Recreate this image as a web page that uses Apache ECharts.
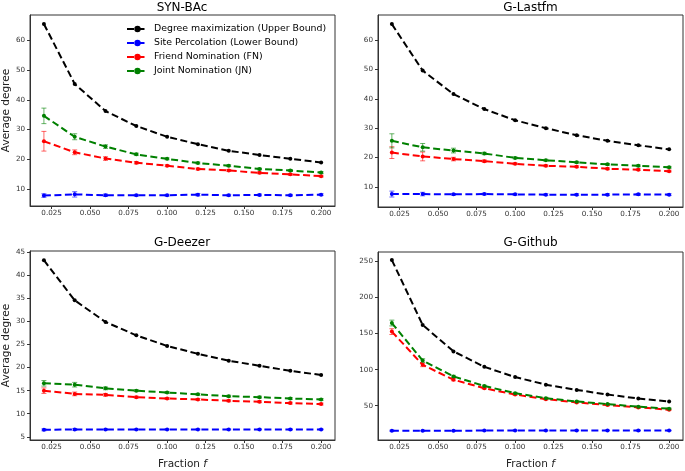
<!DOCTYPE html>
<html>
<head>
<meta charset="utf-8">
<script src="https://cdn.jsdelivr.net/npm/echarts@6/dist/echarts.min.js"></script>
<style>
  html, body { margin: 0; padding: 0; background: #fff; }
  #chart { width: 685px; height: 471px; }
</style>
</head>
<body>
<div id="chart"></div>
<script>
// x values shared by all panels
const fractions = [0.02, 0.04, 0.06, 0.08, 0.10, 0.12, 0.14, 0.16, 0.18, 0.20]
const xTicks = [0.025, 0.05, 0.075, 0.1, 0.125, 0.15, 0.175, 0.2]
const panelTitles = ['SYN-BAc', 'G-Lastfm', 'G-Deezer', 'G-Github']
const seriesNames = [
  'Degree maximization (Upper Bound)',
  'Site Percolation (Lower Bound)',
  'Friend Nomination (FN)',
  'Joint Nomination (JN)'
]

// SYN-BAc
const synUpper = [65.4, 45.3, 36.2, 31.2, 27.6, 25.1, 22.9, 21.5, 20.2, 19.0]
const synLower = [7.9, 8.3, 8.0, 8.0, 8.0, 8.2, 8.0, 8.1, 8.0, 8.2]
const synFN = [26.1, 22.4, 20.3, 18.9, 17.9, 16.8, 16.3, 15.5, 15.0, 14.4]
const synJN = [34.6, 27.6, 24.3, 21.7, 20.2, 18.8, 17.9, 16.8, 16.3, 15.6]
const synLowerErr = [0.6, 0.9, 0.4, 0.3, 0.3, 0.4, 0.3, 0.3, 0.3, 0.3]
const synFNErr = [3.3, 0.8, 0.6, 0.4, 0.3, 0.3, 0.3, 0.3, 0.3, 0.3]
const synJNErr = [2.6, 1.0, 0.6, 0.4, 0.3, 0.3, 0.3, 0.3, 0.3, 0.3]
const synYTicks = [10, 20, 30, 40, 50, 60]

// G-Lastfm
const lastfmUpper = [65.4, 49.6, 41.6, 36.5, 32.7, 30.0, 27.6, 25.7, 24.2, 22.8]
const lastfmLower = [7.6, 7.6, 7.5, 7.6, 7.5, 7.4, 7.4, 7.4, 7.5, 7.4]
const lastfmFN = [21.7, 20.4, 19.5, 18.8, 17.9, 17.2, 16.9, 16.2, 15.9, 15.4]
const lastfmJN = [25.7, 23.5, 22.4, 21.4, 19.9, 19.1, 18.4, 17.7, 17.2, 16.7]
const lastfmLowerErr = [1.0, 0.6, 0.3, 0.3, 0.3, 0.3, 0.3, 0.3, 0.3, 0.3]
const lastfmFNErr = [2.0, 1.5, 0.6, 0.4, 0.3, 0.3, 0.3, 0.3, 0.3, 0.3]
const lastfmJNErr = [2.4, 1.3, 0.8, 0.4, 0.3, 0.3, 0.3, 0.3, 0.3, 0.3]
const lastfmYTicks = [10, 20, 30, 40, 50, 60]

// G-Deezer
const deezerUpper = [43.3, 34.6, 29.9, 27.0, 24.7, 23.0, 21.5, 20.4, 19.3, 18.4]
const deezerLower = [6.5, 6.6, 6.6, 6.6, 6.6, 6.6, 6.6, 6.6, 6.6, 6.6]
const deezerFN = [15.0, 14.3, 14.1, 13.6, 13.3, 13.1, 12.8, 12.6, 12.3, 12.1]
const deezerJN = [16.6, 16.3, 15.5, 15.0, 14.6, 14.2, 13.8, 13.6, 13.3, 13.1]
const deezerLowerErr = [0.2, 0.2, 0.1, 0.1, 0.1, 0.1, 0.1, 0.1, 0.1, 0.1]
const deezerFNErr = [0.6, 0.4, 0.3, 0.2, 0.2, 0.2, 0.2, 0.2, 0.2, 0.2]
const deezerJNErr = [0.6, 0.5, 0.3, 0.2, 0.2, 0.2, 0.2, 0.2, 0.2, 0.2]
const deezerYTicks = [5, 10, 15, 20, 25, 30, 35, 40, 45]

// G-Github
const githubUpper = [251.8, 161.9, 125.3, 103.9, 89.7, 79.2, 71.9, 65.5, 60.0, 55.9]
const githubLower = [15.3, 15.3, 15.3, 15.6, 15.8, 15.6, 15.8, 15.8, 15.6, 15.6]
const githubFN = [152.7, 106.6, 86.1, 74.2, 65.5, 59.1, 54.6, 50.9, 47.7, 44.5]
const githubJN = [164.6, 112.6, 90.6, 77.4, 67.4, 60.5, 55.9, 52.3, 48.6, 45.9]
const githubLowerErr = [0.8, 0.6, 0.5, 0.5, 0.5, 0.5, 0.5, 0.5, 0.5, 0.5]
const githubFNErr = [4.0, 2.5, 1.5, 1.0, 1.0, 1.0, 0.8, 0.8, 0.8, 0.8]
const githubJNErr = [4.0, 2.5, 1.5, 1.0, 1.0, 1.0, 0.8, 0.8, 0.8, 0.8]
const githubYTicks = [50, 100, 150, 200, 250]

const colors = ['#000000', '#0000ff', '#ff0000', '#008000']

const panels = [
  { values: [synUpper, synLower, synFN, synJN], errs: [null, synLowerErr, synFNErr, synJNErr], yTicks: synYTicks, yMin: 4.4, yMax: 68.4 },
  { values: [lastfmUpper, lastfmLower, lastfmFN, lastfmJN], errs: [null, lastfmLowerErr, lastfmFNErr, lastfmJNErr], yTicks: lastfmYTicks, yMin: 3.2, yMax: 68.5 },
  { values: [deezerUpper, deezerLower, deezerFN, deezerJN], errs: [null, deezerLowerErr, deezerFNErr, deezerJNErr], yTicks: deezerYTicks, yMin: 4.3, yMax: 45.3 },
  { values: [githubUpper, githubLower, githubFN, githubJN], errs: [null, githubLowerErr, githubFNErr, githubJNErr], yTicks: githubYTicks, yMin: 2.5, yMax: 263 }
]

const grids = [
  { left: 29, top: 15, width: 306, height: 191 },
  { left: 378, top: 15, width: 305, height: 192 },
  { left: 29, top: 251, width: 306, height: 192 },
  { left: 378, top: 252, width: 305, height: 190 }
]

const font = 'DejaVu Sans'
const labelStyle = { fontSize: 7.2, color: '#333', fontFamily: font }

// error bar drawn as a small custom shape
const errorBars = (color, values, errs, idx) => ({
  type: 'custom',
  xAxisIndex: idx,
  yAxisIndex: idx,
  silent: true,
  z: 1,
  data: fractions.map((f, i) => [f, values[i], errs[i]]),
  renderItem: (params, api) => {
    const x = api.value(0)
    const y = api.value(1)
    const e = api.value(2)
    const top = api.coord([x, y + e])
    const bot = api.coord([x, y - e])
    const w = 2.5
    const style = { stroke: color, lineWidth: 1, opacity: 0.6 }
    return {
      type: 'group',
      children: [
        { type: 'line', shape: { x1: top[0], y1: top[1], x2: bot[0], y2: bot[1] }, style },
        { type: 'line', shape: { x1: top[0] - w, y1: top[1], x2: top[0] + w, y2: top[1] }, style },
        { type: 'line', shape: { x1: bot[0] - w, y1: bot[1], x2: bot[0] + w, y2: bot[1] }, style }
      ]
    }
  }
})

const series = []
panels.forEach((p, idx) => {
  p.values.forEach((vals, s) => {
    series.push({
      type: 'line',
      name: seriesNames[s],
      xAxisIndex: idx,
      yAxisIndex: idx,
      data: fractions.map((f, i) => [f, vals[i]]),
      symbol: 'circle',
      symbolSize: 4,
      showSymbol: true,
      itemStyle: { color: colors[s] },
      lineStyle: { color: colors[s], width: 2, type: [7, 3.5] },
      z: 2
    })
    if (p.errs[s]) series.push(errorBars(colors[s], vals, p.errs[s], idx))
  })
})

const xAxes = grids.map((g, idx) => ({
  type: 'value',
  gridIndex: idx,
  min: 0.011,
  max: 0.209,
  name: idx >= 2 ? 'Fraction {i|f}' : '',
  nameLocation: 'middle',
  nameGap: 19,
  nameTextStyle: {
    fontSize: 10.5, color: '#222', fontFamily: font,
    rich: { i: { fontSize: 10.5, fontStyle: 'italic', color: '#222', fontFamily: font } }
  },
  axisLine: { show: true, lineStyle: { color: '#333', width: 1 } },
  axisTick: { show: true, inside: false, length: 3, customValues: xTicks, lineStyle: { color: '#333' } },
  axisLabel: { ...labelStyle, margin: 4, customValues: xTicks, formatter: v => v.toFixed(3) },
  splitLine: { show: false }
}))

const yAxes = panels.map((p, idx) => ({
  type: 'value',
  gridIndex: idx,
  min: p.yMin,
  max: p.yMax,
  name: idx % 2 === 0 ? 'Average degree' : '',
  nameLocation: 'middle',
  nameGap: 16,
  nameTextStyle: { fontSize: 10.5, color: '#222', fontFamily: font },
  axisLine: { show: true, lineStyle: { color: '#333', width: 1 } },
  axisTick: { show: true, inside: false, length: 3, customValues: p.yTicks, lineStyle: { color: '#333' } },
  axisLabel: { ...labelStyle, margin: 5, customValues: p.yTicks },
  splitLine: { show: false }
}))

const titles = grids.map((g, idx) => ({
  text: panelTitles[idx],
  left: g.left + g.width / 2,
  top: idx < 2 ? 2 : 237,
  textAlign: 'center',
  padding: 0,
  textStyle: { fontSize: 12, fontWeight: 'normal', color: '#000', fontFamily: font }
}))

const chart = echarts.init(document.getElementById('chart'), null, { renderer: 'canvas' })
chart.setOption({
  animation: false,
  backgroundColor: '#fff',
  title: titles,
  legend: {
    data: seriesNames,
    orient: 'vertical',
    left: 126,
    top: 23,
    itemWidth: 21,
    itemHeight: 8,
    itemGap: 2,
    padding: 0,
    selectedMode: false,
    textStyle: { fontSize: 9.4, lineHeight: 12, color: '#000', fontFamily: font, padding: [0, 0, 0, 1] }
  },
  grid: grids.map(g => ({ ...g, show: true, borderColor: '#333', borderWidth: 1, backgroundColor: 'transparent' })),
  xAxis: xAxes,
  yAxis: yAxes,
  series
})
</script>
</body>
</html>
